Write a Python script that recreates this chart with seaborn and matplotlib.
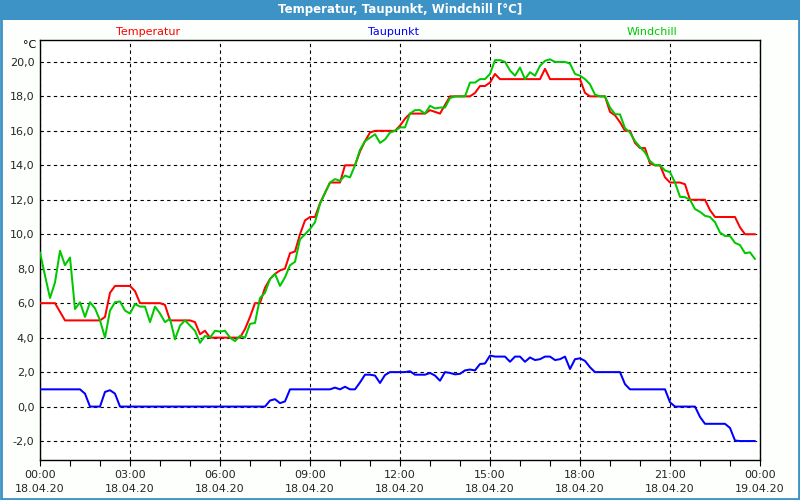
import numpy as np
import pandas as pd
import matplotlib
matplotlib.use("Agg")
import matplotlib.pyplot as plt
import matplotlib.dates as mdates
from matplotlib.patches import Rectangle
import seaborn as sns

# ---------------- data (10-minute readings, 18.04.20 00:00 - 23:50) ----------------
temperatur = [
    6.0, 6.0, 6.0, 6.0, 5.5, 5.0, 5.0, 5.0, 5.0, 5.0,
    5.0, 5.0, 5.0, 5.2, 6.6, 7.0, 7.0, 7.0, 7.0, 6.7,
    6.0, 6.0, 6.0, 6.0, 6.0, 5.9, 5.0, 5.0, 5.0, 5.0,
    5.0, 4.9, 4.2, 4.4, 4.0, 4.0, 4.0, 4.0, 4.0, 4.0,
    4.0, 4.5, 5.2, 6.0, 6.0, 6.9, 7.4, 7.7, 7.9, 8.0,
    8.9, 9.0, 10.0, 10.8, 11.0, 11.0, 11.8, 12.4, 13.0, 13.0,
    13.0, 14.0, 14.0, 14.0, 14.8, 15.4, 15.9, 16.0, 16.0, 16.0,
    16.0, 16.0, 16.3, 16.7, 17.0, 17.0, 17.0, 17.0, 17.2, 17.1,
    17.0, 17.5, 18.0, 18.0, 18.0, 18.0, 18.0, 18.2, 18.6, 18.6,
    18.8, 19.3, 19.0, 19.0, 19.0, 19.0, 19.0, 19.0, 19.0, 19.0,
    19.0, 19.6, 19.0, 19.0, 19.0, 19.0, 19.0, 19.0, 19.0, 18.2,
    18.0, 18.0, 18.0, 18.0, 17.1, 16.9, 16.5, 16.0, 16.0, 15.3,
    15.0, 15.0, 14.1, 14.0, 14.0, 13.3, 13.0, 13.0, 13.0, 12.9,
    12.0, 12.0, 12.0, 12.0, 11.4, 11.0, 11.0, 11.0, 11.0, 11.0,
    10.4, 10.0, 10.0, 10.0,
]

taupunkt = [
    1.0, 1.0, 1.0, 1.0, 1.0, 1.0, 1.0, 1.0, 1.0, 0.75,
    0.0, 0.0, 0.0, 0.85, 0.95, 0.75, 0.0, 0.0, 0.0, 0.0,
    0.0, 0.0, 0.0, 0.0, 0.0, 0.0, 0.0, 0.0, 0.0, 0.0,
    0.0, 0.0, 0.0, 0.0, 0.0, 0.0, 0.0, 0.0, 0.0, 0.0,
    0.0, 0.0, 0.0, 0.0, 0.0, 0.0, 0.35, 0.43, 0.2, 0.3,
    1.0, 1.0, 1.0, 1.0, 1.0, 1.0, 1.0, 1.0, 1.0, 1.1,
    1.0, 1.15, 1.0, 1.0, 1.4, 1.85, 1.85, 1.8, 1.37, 1.83,
    2.0, 2.0, 2.0, 2.0, 2.05, 1.85, 1.85, 1.85, 1.95, 1.8,
    1.5, 2.0, 1.95, 1.87, 1.9, 2.1, 2.15, 2.1, 2.47, 2.5,
    2.96, 2.9, 2.9, 2.9, 2.6, 2.9, 2.9, 2.6, 2.85, 2.7,
    2.75, 2.9, 2.9, 2.7, 2.75, 2.9, 2.18, 2.75, 2.8, 2.65,
    2.28, 2.0, 2.0, 2.0, 2.0, 2.0, 2.0, 1.3, 1.0, 1.0,
    1.0, 1.0, 1.0, 1.0, 1.0, 1.0, 0.25, 0.0, 0.0, 0.0,
    0.0, 0.0, -0.6, -1.0, -1.0, -1.0, -1.0, -1.0, -1.24, -1.97,
    -2.0, -2.0, -2.0, -2.0,
]

windchill = [
    8.95, 7.6, 6.3, 7.2, 9.04, 8.2, 8.65, 5.66, 6.05, 5.2,
    6.05, 5.7, 5.0, 4.0, 5.57, 6.05, 6.1, 5.57, 5.4, 5.95,
    5.8, 5.8, 4.9, 5.8, 5.4, 4.9, 5.1, 3.9, 4.7, 5.0,
    4.7, 4.4, 3.7, 4.1, 4.0, 4.4, 4.35, 4.4, 4.0, 3.8,
    4.1, 4.0, 4.8, 4.85, 6.3, 6.6, 7.4, 7.7, 7.0, 7.5,
    8.2, 8.4, 9.7, 10.0, 10.3, 10.7, 11.75, 12.4, 13.0, 13.2,
    13.1, 13.4, 13.3, 14.0, 14.9, 15.4, 15.6, 15.8, 15.3, 15.5,
    15.9, 16.0, 16.2, 16.2, 17.0, 17.2, 17.2, 17.0, 17.45, 17.3,
    17.35, 17.35, 17.9, 18.0, 18.0, 18.0, 18.8, 18.8, 19.0, 19.0,
    19.3, 20.1, 20.1, 20.0, 19.5, 19.2, 19.67, 19.0, 19.4, 19.2,
    19.77, 20.06, 20.15, 20.0, 20.0, 20.0, 19.9, 19.3, 19.2, 19.0,
    18.7, 18.1, 18.0, 18.0, 17.35, 16.97, 16.95, 16.15, 15.9, 15.4,
    15.06, 14.75, 14.25, 14.0, 14.0, 13.7, 13.6, 13.0, 12.17, 12.15,
    12.0, 11.46, 11.3, 11.07, 11.0, 10.7, 10.1, 9.9, 9.9, 9.5,
    9.37, 8.9, 8.95, 8.56,
]

series_names = ["Temperatur", "Taupunkt", "Windchill"]
series_colors = ["#ff0000", "#0000ff", "#00c800"]
y_ticks = [-2, 0, 2, 4, 6, 8, 10, 12, 14, 16, 18, 20]
title = "Temperatur, Taupunkt, Windchill [°C]"
unit = "°C"

times = pd.date_range("2020-04-18 00:00", periods=len(temperatur), freq="10min")
df = pd.DataFrame({
    "Zeit": np.tile(times, 3),
    "Wert": temperatur + taupunkt + windchill,
    "Reihe": np.repeat(series_names, len(times)),
})

# ---------------- figure ----------------
sns.set_style("white")
plt.rcParams["font.family"] = ["DejaVu Sans"]

fig = plt.figure(figsize=(8, 5), dpi=100)
fig.patch.set_facecolor("#fcfffc")
W, H = 800, 500
ax = fig.add_axes([40 / W, 1 - 460 / H, 720 / W, 420 / H])
ax.set_facecolor("white")

sns.lineplot(data=df, x="Zeit", y="Wert", hue="Reihe", hue_order=series_names,
             palette=series_colors, linewidth=1.45, legend=False, ax=ax, zorder=3)

x0 = pd.Timestamp("2020-04-18 00:00")
x1 = pd.Timestamp("2020-04-19 00:00")
ax.set_xlim(x0, x1)
ax.set_ylim(-3.1, 21.27)

ax.set_yticks(y_ticks)
ax.set_yticklabels([f"{v:.1f}".replace(".", ",") for v in y_ticks], fontsize=8)

major = pd.date_range(x0, x1, freq="3h")
ax.set_xticks(major)
ax.set_xticklabels([f"{t:%H:%M}\n{t:%d.%m.%y}" for t in major], fontsize=8,
                   linespacing=1.5)
ax.xaxis.set_minor_locator(mdates.HourLocator())
ax.tick_params(axis="x", which="both", direction="out", length=4, width=0.8,
               color="black", pad=3, bottom=True)
ax.tick_params(axis="y", which="both", length=0, pad=4)

ax.grid(True, which="major", color="black", linestyle=(0, (3, 3)), linewidth=0.8)
for s in ax.spines.values():
    s.set_visible(True)
    s.set_color("black")
    s.set_linewidth(1.0)
ax.set_xlabel("")
ax.set_ylabel("")

# title bar and border
fig.patches.append(Rectangle((0, 1 - 20 / H), 1, 20 / H, transform=fig.transFigure,
                             facecolor="#3d93c6", edgecolor="none", zorder=0))
fig.patches.append(Rectangle((1 / W, 1 / H), 1 - 2 / W, 1 - 2 / H, transform=fig.transFigure,
                             facecolor="none", edgecolor="#3d93c6", linewidth=2, zorder=5))
fig.text(0.5, 1 - 10 / H, title, ha="center", va="center", color="white",
         fontsize=8.5, fontweight="bold")

# series labels
label_x = [148, 394, 652]
for name, col, lx in zip(series_names, series_colors, label_x):
    fig.text(lx / W, 1 - 32 / H, name, ha="center", va="center", color=col, fontsize=8)
fig.text(30 / W, 1 - 45 / H, unit, ha="center", va="center", color="black", fontsize=8)

fig.savefig("out.png", dpi=100, facecolor=fig.get_facecolor())
